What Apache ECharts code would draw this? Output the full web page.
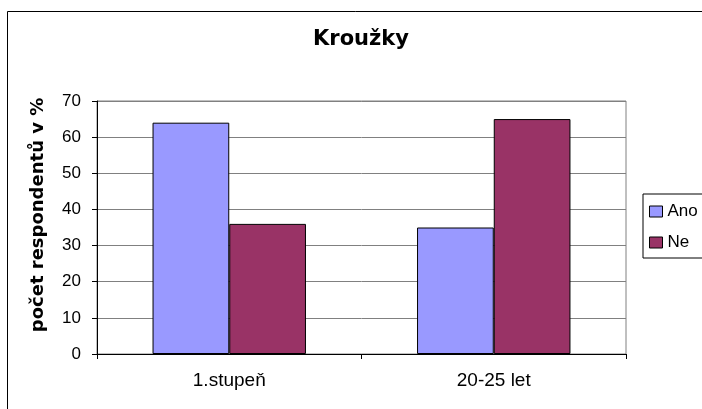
<!DOCTYPE html>
<html>
<head>
<meta charset="utf-8">
<script src="https://cdn.jsdelivr.net/npm/echarts@6/dist/echarts.min.js"></script>
<style>
  html, body { margin: 0; padding: 0; background: #fff; }
  #chart { width: 702px; height: 409px; }
</style>
</head>
<body>
<div id="chart"></div>
<script>
const categories = ["1.stupeň", "20-25 let"];
const anoValues = [64, 35];
const neValues = [36, 65];
const yTicks = [0, 10, 20, 30, 40, 50, 60, 70];

const chart = echarts.init(document.getElementById("chart"));
const font = "Liberation Sans, Arial, sans-serif";
const boldFont = "DejaVu Sans, Liberation Sans, sans-serif";

chart.setOption({
    animation: false,
    backgroundColor: "#fff",
    textStyle: { fontFamily: font },
    graphic: [
        {
            type: "rect",
            left: 5,
            top: 9,
            shape: { width: 800, height: 500 },
            style: { fill: "none", stroke: "#000", lineWidth: 1 },
            silent: true,
        },
    ],
    title: {
        text: "Kroužky",
        left: 308,
        top: 24,
        textStyle: { fontFamily: boldFont, fontSize: 21, fontWeight: "bold", color: "#000" },
    },
    legend: {
        orient: "vertical",
        left: 643,
        top: 194,
        padding: [9, 30, 7, 6],
        borderColor: "#000",
        borderWidth: 1,
        itemWidth: 13,
        itemHeight: 11,
        itemGap: 14,
        icon: "rect",
        itemStyle: { borderColor: "#000", borderWidth: 1 },
        textStyle: { fontFamily: font, fontSize: 17, color: "#000" },
        data: ["Ano", "Ne"],
    },
    grid: {
        left: 97,
        right: 76,
        top: 101,
        bottom: 55,
        show: true,
        borderColor: "#808080",
        borderWidth: 1,
    },
    xAxis: {
        type: "category",
        data: categories,
        axisLine: { lineStyle: { color: "#000", width: 1 } },
        axisTick: { show: true, length: 5, lineStyle: { color: "#000" } },
        axisLabel: { color: "#000", fontSize: 19, margin: 17, fontFamily: font },
    },
    yAxis: {
        type: "value",
        min: yTicks[0],
        max: yTicks[yTicks.length - 1],
        interval: 10,
        name: "počet respondentů v %",
        nameLocation: "middle",
        nameGap: 50,
        nameTextStyle: {
            fontFamily: boldFont,
            fontSize: 18,
            fontWeight: "bold",
            color: "#000",
            padding: [0, 0, 0, 25],
        },
        axisLine: { show: true, lineStyle: { color: "#000", width: 1 } },
        axisTick: { show: true, length: 5, lineStyle: { color: "#000" } },
        axisLabel: { color: "#000", fontSize: 17, margin: 16, fontFamily: font },
        splitLine: { lineStyle: { color: "#808080", width: 1 } },
    },
    series: [
        {
            name: "Ano",
            type: "bar",
            data: anoValues,
            barGap: "0%",
            barCategoryGap: "42%",
            itemStyle: { color: "#9999ff", borderColor: "#000", borderWidth: 1 },
        },
        {
            name: "Ne",
            type: "bar",
            data: neValues,
            itemStyle: { color: "#993366", borderColor: "#000", borderWidth: 1 },
        },
    ],
});
</script>
</body>
</html>
